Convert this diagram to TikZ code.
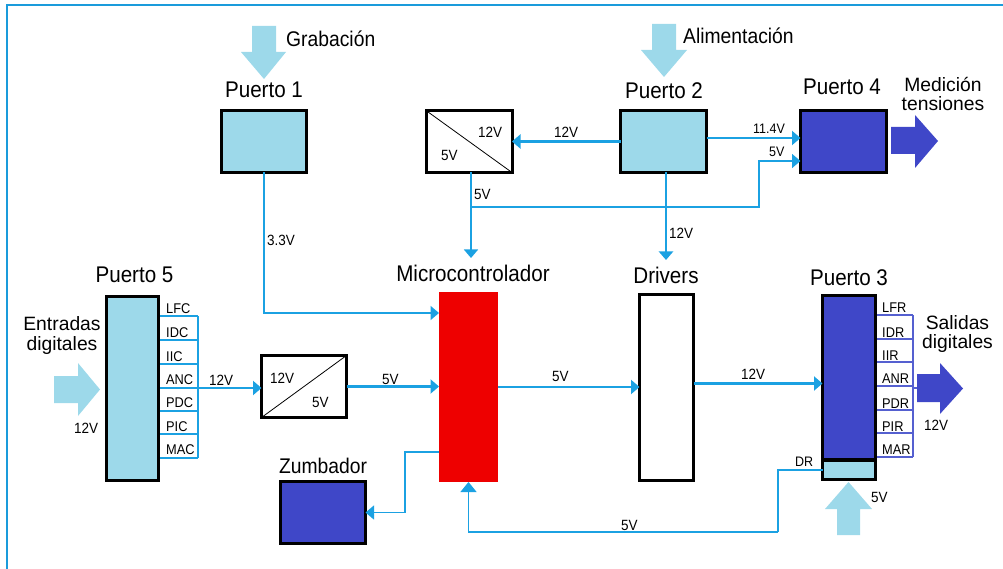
\documentclass[tikz,border=0pt]{standalone}
\usepackage{fontspec}
\setmainfont{Liberation Sans}
\usetikzlibrary{arrows.meta,backgrounds}
\definecolor{lb}{HTML}{9DD9EA}
\definecolor{db}{HTML}{3F47C8}
\definecolor{cb}{HTML}{1BA1E2}
\definecolor{frm}{HTML}{1A9BDB}
\definecolor{pb}{HTML}{5560D0}
\definecolor{rd}{HTML}{EE0000}
\newcommand\vs[1]{\scalebox{1}[1.1]{#1}}
\begin{document}
\begin{tikzpicture}[x=1bp,y=-1bp,
  blk/.style={draw=black,line width=3bp,inner sep=0pt,outer sep=0pt},
  title/.style={font=\fontsize{20.6bp}{22bp}\selectfont,anchor=base,inner sep=0pt},
  note/.style={font=\fontsize{19.3bp}{#1}\selectfont,anchor=base,inner sep=0pt,align=center},
  note/.default=19bp,
  lbl/.style={font=\fontsize{13.5bp}{14bp}\selectfont,anchor=base west,inner sep=0pt},
  slbl/.style={font=\fontsize{12.5bp}{13bp}\selectfont,anchor=base west,inner sep=0pt},
  pin/.style={font=\fontsize{12.8bp}{13bp}\selectfont,anchor=base west,inner sep=0pt},
  tip/.style={-{Triangle[length=8.5bp,width=14bp]}},
  conn/.style={draw=cb,line width=2.3bp,tip},
  thinc/.style={draw=cb,line width=1.5bp},
]
\useasboundingbox (0,0) rectangle (1003,569);
% frame
\draw[frm,line width=2.5bp] (7,569) -- (7,5) -- (1003,5);

% boxes
\node[blk,fill=lb,minimum width=85bp,minimum height=62bp] (p1) at (264,141.5) {};
\node[blk,fill=white,minimum width=86bp,minimum height=62bp] (cv1) at (469,141.5) {};
\node[blk,fill=lb,minimum width=86bp,minimum height=62bp] (p2) at (663.5,141.5) {};
\node[blk,fill=db,minimum width=86bp,minimum height=62bp] (p4) at (843.5,141.5) {};
\node[blk,fill=lb,minimum width=52bp,minimum height=184bp] (p5) at (132.5,388.5) {};
\node[blk,fill=white,minimum width=85bp,minimum height=62bp] (cv2) at (304,386.5) {};
\node[fill=rd,inner sep=0pt,outer sep=0pt,minimum width=59bp,minimum height=190bp] (mc) at (468.5,387) {};
\node[blk,fill=white,minimum width=54bp,minimum height=186bp] (drv) at (666.5,387.5) {};
\node[blk,fill=db,minimum width=53bp,minimum height=164bp] (p3) at (849,377.5) {};
\node[blk,fill=lb,minimum width=53bp,minimum height=19bp] (p3dr) at (849,470) {};
\node[blk,fill=db,minimum width=85bp,minimum height=62bp] (zb) at (323,512.5) {};

% converter diagonals
\draw[line width=0.8bp] (cv1.north west) -- (cv1.south east);
\draw[line width=0.8bp] (cv2.south west) -- (cv2.north east);
\node[lbl] (cv1a) at (478,138) {\vs{12V}};
\node[lbl] (cv1b) at (441,161) {\vs{5V}};
\node[lbl] (cv2a) at (270,383) {\vs{12V}};
\node[lbl] (cv2b) at (312,407) {\vs{5V}};

% titles
\node[title] (t1) at (264,98) {\vs{Puerto 1}};
\node[title] (t2) at (664,99) {\vs{Puerto 2}};
\node[title] (t4) at (842,95) {\vs{Puerto 4}};
\node[title] (t5) at (134.5,283) {\vs{Puerto 5}};
\node[title] (tm) at (473,282) {\vs{Microcontrolador}};
\node[title] (td) at (666,284) {\vs{Drivers}};
\node[title] (t3) at (849,286) {\vs{Puerto 3}};
\node[title,font=\fontsize{19.3bp}{20bp}\selectfont] (tz) at (323,473) {\vs{Zumbador}};

% notes
\node[note,anchor=base west] (ng) at (286,46.7) {\vs{Grabación}};
\node[note,anchor=base west] (na) at (683,44) {\vs{Alimentación}};
\node[note=18.5bp] (nm) at (943,110.5) {Medición\\tensiones};
\node[note=20.5bp] (ne) at (62,350.5) {Entradas\\digitales};
\node[note=19bp] (ns) at (957.5,348) {Salidas\\digitales};

% fat arrows
\fill[lb] (252,26) -- (276,26) -- (276,52) -- (286,52) -- (264,79) -- (241,52) -- (252,52) -- cycle;
\fill[lb] (652,24) -- (676,24) -- (676,50) -- (687,50) -- (664,77) -- (641,50) -- (652,50) -- cycle;
\fill[lb] (54,376) -- (78,376) -- (78,363) -- (100,389.5) -- (78,416) -- (78,403) -- (54,403) -- cycle;
\fill[db] (891,127) -- (915,127) -- (915,115) -- (938,141) -- (915,168) -- (915,154) -- (891,154) -- cycle;
\fill[db] (917,374) -- (940,374) -- (940,363) -- (963,388.5) -- (940,414) -- (940,402) -- (917,402) -- cycle;
\fill[lb] (837,535) -- (837,509) -- (825,509) -- (848.5,482) -- (872,509) -- (860,509) -- (860,535) -- cycle;

% pin tables
\begin{scope}[on background layer]
\foreach \yy in {316,340,364,388,411,434,458}
  \draw[cb,line width=1.3bp] (p5.east |- 0,\yy) -- (198,\yy);
\draw[cb,line width=1.3bp] (198,316) -- (198,458);
\foreach \yy in {315,339,362,386,410,433,457}
  \draw[pb,line width=1.3bp] (p3.east |- 0,\yy) -- (913,\yy);
\draw[pb,line width=1.3bp] (913,315) -- (913,457);
\draw[pb,line width=1.3bp] (913,388) -- (917,388);
\end{scope}
\foreach \t/\yy in {LFC/313,IDC/337,IIC/361,ANC/384,PDC/407,PIC/431,MAC/454}
  \node[pin] (pin\t) at (166,\yy) {\vs{\t}};
\foreach \t/\yy in {LFR/312,IDR/337,IIR/360,ANR/383,PDR/408,PIR/431,MAR/454}
  \node[pin] (pin\t) at (882,\yy) {\vs{\t}};

% connectors
\coordinate (anc) at (198,388);
\coordinate (mtip) at (471,258);
\coordinate (dtip) at (666,260);
\coordinate (j1) at (471,207);
\coordinate (j2) at (759,207);
\coordinate (lp) at (778,532);

\draw[conn] (p2.west) -- (cv1.east);
\draw[conn] ([yshift=3.5bp]p2.east) -- ([yshift=3.5bp]p4.west);
\draw[thinc] (cv1.south -| mtip) -- (j1);
\draw[thinc,tip] (j1) -- (mtip);
\draw[thinc,tip] (j1) -- (j2) |- ([yshift=-19.5bp]p4.west);
\draw[conn] (p2.south -| dtip) -- (dtip);
\draw[conn,line width=1.7bp] (p1.south) |- ([yshift=74bp]mc.west);
\draw[conn] (anc) -- (anc -| cv2.west);
\draw[conn] (cv2.east) -- (cv2.east -| mc.west);
\draw[conn] (mc.east) -- (mc.east -| drv.west);
\draw[conn] ([yshift=4bp]drv.east) -- ([yshift=4bp]drv.east -| p3.west);
\draw[thinc,line width=1.3bp,tip] ([yshift=-65bp]mc.west) -- ++(-34,0) |- (zb.east);
\draw[thinc,line width=1.3bp] (p3dr.west) -| (lp);
\draw[thinc,line width=1.3bp,-{Triangle[length=10bp,width=16bp]}] (lp) -| (mc.south);

% connector labels
\node[lbl] (l33) at (267,246) {\vs{3.3V}};
\node[lbl] (l12a) at (554,138) {\vs{12V}};
\node[lbl] (l5a) at (474,200) {\vs{5V}};
\node[slbl] (l114) at (753,134) {\vs{11.4V}};
\node[slbl] (l5b) at (769,157) {\vs{5V}};
\node[lbl] (l12b) at (669,239) {\vs{12V}};
\node[lbl] (l12c) at (209,385) {\vs{12V}};
\node[lbl] (l12d) at (74,433) {\vs{12V}};
\node[lbl] (l5c) at (382,384) {\vs{5V}};
\node[lbl] (l5d) at (552,381) {\vs{5V}};
\node[lbl] (l12e) at (741,379) {\vs{12V}};
\node[lbl] (l12f) at (924,430) {\vs{12V}};
\node[slbl] (ldr) at (795,466) {\vs{DR}};
\node[lbl] (l5e) at (871,502) {\vs{5V}};
\node[lbl] (l5f) at (621,530) {\vs{5V}};
\end{tikzpicture}
\end{document}
